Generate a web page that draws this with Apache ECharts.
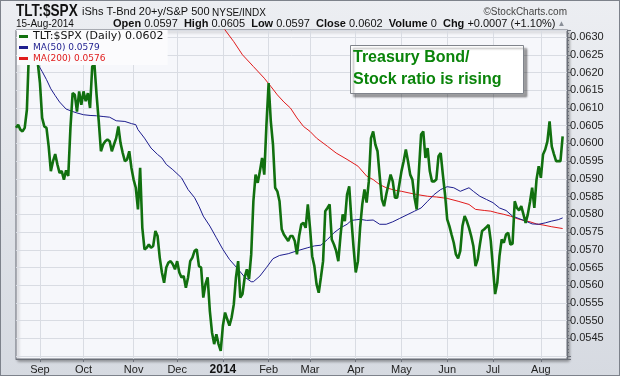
<!DOCTYPE html>
<html>
<head>
<meta charset="utf-8">
<script src="https://cdn.jsdelivr.net/npm/echarts@6/dist/echarts.min.js"></script>
<style>
  html, body { margin: 0; padding: 0; }
  #chart {
    width: 620px; height: 376px;
    background: linear-gradient(#eceef2, #d6dae1);
    box-shadow: inset 0 0 0 1px #7d828b;
  }
</style>
</head>
<body>
<div id="chart"></div>
<script>
// trading days shown: 16-Aug-2013 .. 15-Aug-2014 (weekdays minus NYSE holidays)
var firstDay = '2013-08-16';
var lastDay = '2014-08-15';
var holidays = ['2013-09-02', '2013-11-28', '2013-12-25', '2014-01-01', '2014-01-20',
  '2014-02-17', '2014-04-18', '2014-05-26', '2014-07-04'];
var monthLabels = ['Sep', 'Oct', 'Nov', 'Dec', '2014', 'Feb', 'Mar', 'Apr', 'May', 'Jun', 'Jul', 'Aug'];

// TLT:$SPX daily close, one per trading day
var ratio = [
  0.06044, 0.06053, 0.06039, 0.06034, 0.06044, 0.06095, 0.06269, 0.06287, 0.06259, 0.06278,
  0.06227, 0.06170, 0.06072, 0.06048, 0.06044, 0.05992, 0.05922, 0.05950, 0.05970, 0.05941,
  0.05917, 0.05922, 0.05898, 0.05924, 0.05908, 0.06044, 0.06142, 0.06137, 0.06090, 0.06147,
  0.06109, 0.06147, 0.06119, 0.06142, 0.06100, 0.06217, 0.06224, 0.06137, 0.06062, 0.05978,
  0.05997, 0.06006, 0.06011, 0.06006, 0.05978, 0.05997, 0.06015, 0.06048, 0.06001, 0.05973,
  0.05950, 0.05955, 0.05978, 0.05931, 0.05898, 0.05875, 0.05814, 0.05931, 0.05762, 0.05701,
  0.05706, 0.05715, 0.05706, 0.05711, 0.05753, 0.05739, 0.05678, 0.05636, 0.05607, 0.05650,
  0.05664, 0.05668, 0.05659, 0.05645, 0.05668, 0.05636, 0.05622, 0.05626, 0.05593, 0.05622,
  0.05668, 0.05678, 0.05697, 0.05701, 0.05654, 0.05650, 0.05565, 0.05603, 0.05622, 0.05528,
  0.05467, 0.05434, 0.05462, 0.05434, 0.05415, 0.05486, 0.05523, 0.05504, 0.05486, 0.05509,
  0.05546, 0.05622, 0.05668, 0.05565, 0.05575, 0.05622, 0.05645, 0.05617, 0.05687, 0.05837,
  0.05912, 0.05889, 0.05922, 0.05959, 0.05912, 0.06053, 0.06170, 0.06062, 0.05997, 0.05875,
  0.05865, 0.05837, 0.05758, 0.05743, 0.05734, 0.05725, 0.05739, 0.05739, 0.05725, 0.05687,
  0.05739, 0.05772, 0.05776, 0.05762, 0.05828, 0.05762, 0.05682, 0.05654, 0.05603, 0.05579,
  0.05622, 0.05668, 0.05809, 0.05818, 0.05828, 0.05729, 0.05715, 0.05697, 0.05668, 0.05739,
  0.05800, 0.05781, 0.05856, 0.05879, 0.05786, 0.05706, 0.05636, 0.05668, 0.05762, 0.05828,
  0.05870, 0.05833, 0.05893, 0.06015, 0.06034, 0.05997, 0.05978, 0.05908, 0.05842, 0.05823,
  0.05856, 0.05884, 0.05912, 0.05893, 0.05847, 0.05847, 0.05884, 0.05922, 0.05950, 0.05983,
  0.05950, 0.05912, 0.05898, 0.05847, 0.05814, 0.05922, 0.06025, 0.06034, 0.05959, 0.05987,
  0.05922, 0.05893, 0.05893, 0.05898, 0.05964, 0.05973, 0.05912, 0.05856, 0.05786, 0.05767,
  0.05743, 0.05720, 0.05687, 0.05676, 0.05697, 0.05767, 0.05795, 0.05781, 0.05762, 0.05739,
  0.05711, 0.05654, 0.05673, 0.05715, 0.05753, 0.05758, 0.05764, 0.05770, 0.05725, 0.05650,
  0.05575, 0.05607, 0.05682, 0.05729, 0.05720, 0.05743, 0.05748, 0.05715, 0.05717, 0.05837,
  0.05818, 0.05811, 0.05823, 0.05800, 0.05776, 0.05800, 0.05835, 0.05875, 0.05818, 0.05898,
  0.05936, 0.05903, 0.05969, 0.05983, 0.06006, 0.06062, 0.05992, 0.05970, 0.05950, 0.05950,
  0.05950, 0.06020
];

// moving averages as [day index, value]
var ma50 = [
  [10, 0.06224], [12, 0.06203], [14, 0.06180], [16, 0.06154], [18, 0.06135], [20, 0.06117],
  [23, 0.06097], [26, 0.06090], [28, 0.06086], [31, 0.06081], [34, 0.06079], [37, 0.06078],
  [40, 0.06076], [43, 0.06074], [46, 0.06064], [50, 0.06062], [53, 0.06056], [55, 0.06053],
  [56, 0.06039], [59, 0.06015], [62, 0.05987], [65, 0.05969], [67, 0.05959], [69, 0.05941],
  [72, 0.05926], [76, 0.05903], [79, 0.05870], [82, 0.05847], [84, 0.05823], [86, 0.05795],
  [89, 0.05767], [92, 0.05734], [95, 0.05701], [98, 0.05673], [102, 0.05645], [105, 0.05623],
  [108, 0.05610], [109, 0.05610], [112, 0.05626], [115, 0.05650], [118, 0.05675], [121, 0.05684],
  [125, 0.05689], [129, 0.05697], [134, 0.05706], [137, 0.05711], [140, 0.05713], [143, 0.05729],
  [146, 0.05748], [149, 0.05762], [152, 0.05772], [154, 0.05783], [158, 0.05786], [161, 0.05783],
  [164, 0.05784], [167, 0.05772], [170, 0.05772], [173, 0.05779], [176, 0.05788], [180, 0.05800],
  [183, 0.05809], [186, 0.05818], [189, 0.05837], [192, 0.05856], [195, 0.05870], [198, 0.05878],
  [201, 0.05875], [204, 0.05865], [208, 0.05875], [210, 0.05865], [213, 0.05851], [216, 0.05842],
  [219, 0.05833], [222, 0.05818], [225, 0.05811], [228, 0.05795], [231, 0.05788], [234, 0.05781],
  [237, 0.05773], [240, 0.05772], [243, 0.05776], [246, 0.05781], [249, 0.05785], [251, 0.0579]
];
var ma200 = [
  [95, 0.06330], [96, 0.06320], [100, 0.06287], [104, 0.06250], [109, 0.06217], [114, 0.06184],
  [117, 0.06161], [120, 0.06137], [123, 0.06117], [126, 0.06100], [129, 0.06072], [132, 0.06048],
  [135, 0.06034], [138, 0.06015], [143, 0.05992], [147, 0.05973], [152, 0.05955], [157, 0.05936],
  [161, 0.05908], [164, 0.05898], [167, 0.05884], [170, 0.05875], [174, 0.05868], [177, 0.05865],
  [180, 0.05861], [184, 0.05856], [189, 0.05851], [193, 0.05849], [198, 0.05845], [203, 0.05837],
  [208, 0.05828], [211, 0.05814], [215, 0.05811], [218, 0.05809], [221, 0.05804], [224, 0.05800],
  [227, 0.05795], [230, 0.05788], [233, 0.05783], [236, 0.05779], [239, 0.05773], [242, 0.05770],
  [246, 0.05765], [251, 0.0576]
];

var days = [];
for (var t = Date.parse(firstDay); t <= Date.parse(lastDay); t += 864e5) {
  var d = new Date(t), s = d.toISOString().slice(0, 10), wd = d.getUTCDay();
  if (wd > 0 && wd < 6 && holidays.indexOf(s) < 0) days.push(s);
}
days.push('pad1', 'pad2'); // small gap before the right edge, like the original

// first trading day of each month gets a label
var tickText = {};
var m = 0;
days.forEach(function (s, i) {
  if (i > 0 && s.charAt(0) === '2' && s.slice(5, 7) !== days[i - 1].slice(5, 7)) tickText[i] = monthLabels[m++];
});
function isTick(i) { return tickText[i] !== undefined; }

var lastVal = {
  'TLT:$SPX (Daily)': ratio[ratio.length - 1],
  'MA(50)': ma50[ma50.length - 1][1],
  'MA(200)': ma200[ma200.length - 1][1]
};

var green = '#11700f', blue = '#1d1d8e', red = '#e01b1b';
var axisCol = '#6b6f78', gridCol = '#d9dce3';

var chart = echarts.init(document.getElementById('chart'));
chart.setOption({
  animation: false,
  grid: {
    left: 16, right: 53, top: 30, bottom: 17, show: true,
    backgroundColor: '#f6f7fb', borderColor: axisCol, borderWidth: 1,
    shadowColor: 'rgba(0,0,0,0.35)', shadowBlur: 3, shadowOffsetX: 2, shadowOffsetY: 2
  },
  legend: {
    orient: 'vertical', left: 17, top: 30, padding: [1, 4, 1, 2],
    itemGap: 0, itemWidth: 9, itemHeight: 3, icon: 'rect',
    backgroundColor: '#fbfbfd', selectedMode: false,
    data: [
      { name: 'TLT:$SPX (Daily)', textStyle: { color: '#111', fontSize: 11, fontFamily: 'DejaVu Sans', lineHeight: 11 } },
      { name: 'MA(50)', textStyle: { color: blue, fontSize: 9, fontFamily: 'DejaVu Sans', lineHeight: 11 } },
      { name: 'MA(200)', textStyle: { color: red, fontSize: 9, fontFamily: 'DejaVu Sans', lineHeight: 11 } }
    ],
    formatter: function (n) { return n + ' ' + lastVal[n].toFixed(4); }
  },
  xAxis: {
    type: 'category', data: days, boundaryGap: false,
    axisLine: { lineStyle: { color: axisCol } },
    axisTick: { interval: isTick, length: 3, lineStyle: { color: axisCol } },
    axisLabel: {
      interval: isTick, margin: 5, fontSize: 11, fontFamily: 'Liberation Sans', color: '#222',
      formatter: function (v, i) {
        var txt = tickText[i] || '';
        return txt === '2014' ? '{y|2014}' : txt;
      },
      rich: { y: { fontWeight: 'bold', fontSize: 12, color: '#111', fontFamily: 'Liberation Sans' } }
    },
    splitLine: { show: true, interval: isTick, lineStyle: { color: gridCol } }
  },
  yAxis: {
    type: 'value', position: 'right', min: 0.05392, max: 0.0632, splitNumber: 18,
    axisLine: { show: true, lineStyle: { color: axisCol } },
    axisTick: { show: true, length: 4, lineStyle: { color: axisCol } },
    minorTick: { show: true, splitNumber: 5, length: 2, lineStyle: { color: axisCol } },
    axisLabel: {
      margin: 3, fontSize: 11, fontFamily: 'Liberation Sans', color: '#222',
      formatter: function (v) {
        var k = v / 0.0005;
        return (Math.abs(k - Math.round(k)) < 1e-6 && v > 0.0542) ? v.toFixed(4) : '';
      }
    },
    splitLine: { lineStyle: { color: gridCol } }
  },
  series: [
    { name: 'MA(200)', type: 'line', data: ma200, symbol: 'none', z: 2,
      lineStyle: { color: red, width: 1 }, itemStyle: { color: red } },
    { name: 'MA(50)', type: 'line', data: ma50, symbol: 'none', z: 2,
      lineStyle: { color: blue, width: 1 }, itemStyle: { color: blue } },
    { name: 'TLT:$SPX (Daily)', type: 'line', data: ratio, symbol: 'none', z: 3,
      lineStyle: { color: green, width: 2.6 }, itemStyle: { color: green } }
  ],
  graphic: [
    { type: 'text', x: 16, y: 11, scaleX: 0.8, style: { x: 0, y: 0, text: 'TLT:$SPX', font: 'bold 17px "Liberation Sans"', fill: '#111', verticalAlign: 'middle' } },
    { type: 'text', style: { x: 82, y: 12, text: 'iShs T-Bnd 20+y/S&P 500', font: '11px "Liberation Sans"', fill: '#111', verticalAlign: 'middle' } },
    { type: 'text', style: { x: 212, y: 13, text: 'NYSE/INDX', font: '10px "Liberation Sans"', fill: '#111', verticalAlign: 'middle' } },
    { type: 'text', style: { x: 567, y: 12, text: '\u00a9StockCharts.com', font: '10px "Liberation Sans"', fill: '#444', align: 'right', verticalAlign: 'middle' } },
    { type: 'text', style: { x: 16, y: 24, text: '15-Aug-2014', font: '10px "Liberation Sans"', fill: '#111', verticalAlign: 'middle' } },
    { type: 'text', style: {
        x: 113, y: 24, verticalAlign: 'middle', font: '11px "Liberation Sans"', fill: '#111',
        text: '{b|Open} 0.0597  {b|High} 0.0605  {b|Low} 0.0597  {b|Close} 0.0602  {b|Volume} 0  {b|Chg} +0.0007 (+1.10%){g|\u25b2}',
        rich: { b: { fontWeight: 'bold', fontSize: 11, fontFamily: 'Liberation Sans', fill: '#111' },
                g: { fontSize: 8, fill: '#8a8f98', padding: [0, 0, 0, 2] } }
      } },
    { type: 'rect', z: 10, shape: { x: 350.5, y: 45.5, width: 173, height: 48 },
      style: { fill: '#fff', stroke: '#80848c', lineWidth: 1, shadowColor: 'rgba(0,0,0,0.35)', shadowBlur: 2, shadowOffsetX: 3, shadowOffsetY: 3 } },
    { type: 'text', z: 11, style: { x: 353, y: 58, text: 'Treasury Bond/', font: 'bold 16px "Liberation Sans"', fill: '#0a840a', verticalAlign: 'middle' } },
    { type: 'text', z: 11, style: { x: 353, y: 80, text: 'Stock ratio is rising', font: 'bold 16px "Liberation Sans"', fill: '#0a840a', verticalAlign: 'middle' } }
  ]
});
window.addEventListener('resize', chart.resize);
</script>
</body>
</html>
